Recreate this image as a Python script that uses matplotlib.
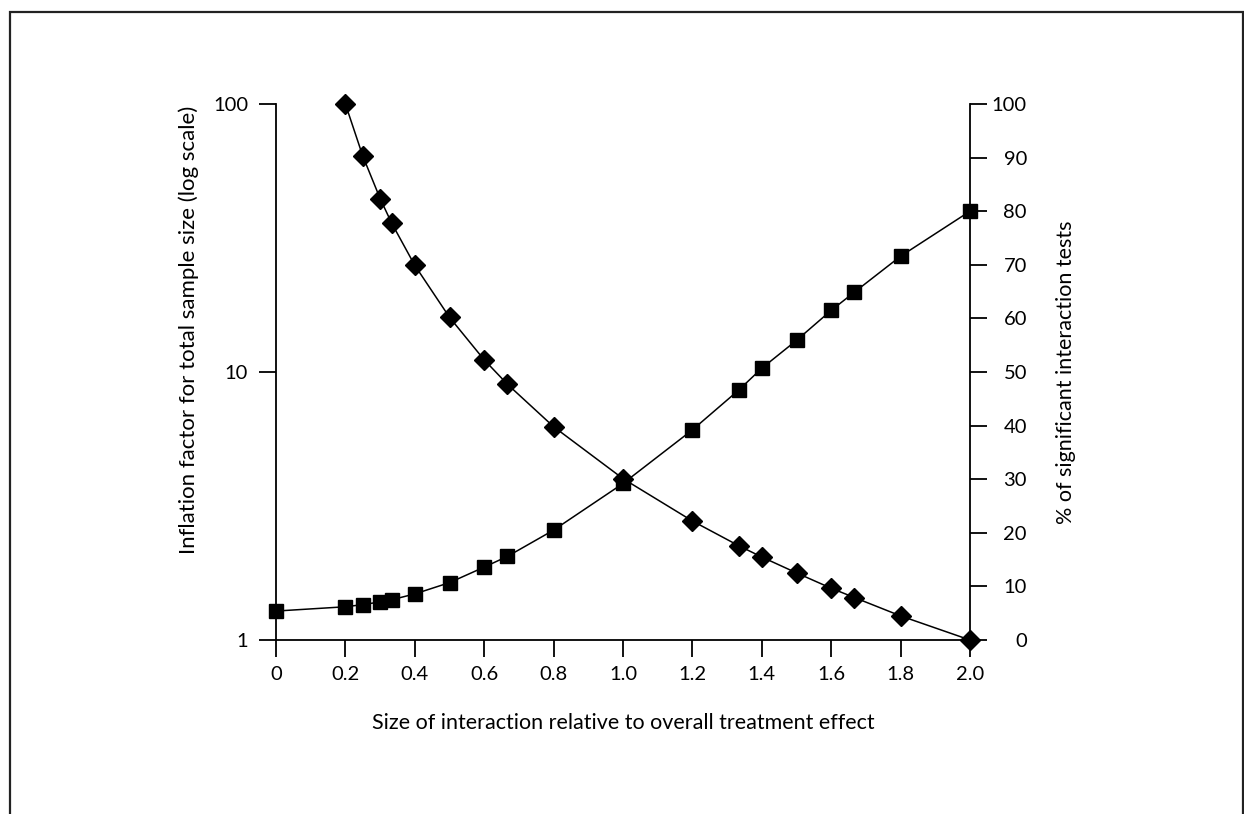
import numpy as np
import matplotlib.pyplot as plt
from matplotlib.patches import Rectangle

plt.rcParams['font.family'] = ['Lato', 'DejaVu Sans']

# interaction size relative to overall treatment effect
x_inflation = [0.2, 0.25, 0.3, 0.333, 0.4, 0.5, 0.6, 0.667, 0.8, 1.0,
               1.2, 1.333, 1.4, 1.5, 1.6, 1.667, 1.8, 2.0]
inflation = [100, 64, 44.4, 36, 25, 16, 11.1, 9, 6.25, 4,
             2.78, 2.25, 2.04, 1.78, 1.56, 1.44, 1.23, 1.0]

x_signif = [0, 0.2, 0.25, 0.3, 0.333, 0.4, 0.5, 0.6, 0.667, 0.8, 1.0,
            1.2, 1.333, 1.4, 1.5, 1.6, 1.667, 1.8, 2.0]
pct_signif = [5.4, 6.2, 6.6, 7.1, 7.5, 8.6, 10.7, 13.6, 15.6, 20.5, 29.2,
              39.2, 46.6, 50.7, 55.9, 61.5, 64.9, 71.6, 80.0]

x_ticks = [0, 0.2, 0.4, 0.6, 0.8, 1.0, 1.2, 1.4, 1.6, 1.8, 2.0]
x_tick_labels = ['0', '0.2', '0.4', '0.6', '0.8', '1.0', '1.2', '1.4', '1.6', '1.8', '2.0']

fig = plt.figure(figsize=(12.44, 8.14), dpi=100)
ax = fig.add_axes([276/1244, 1 - 640/814, (970-276)/1244, (640-104)/814])

ax.plot(x_inflation, inflation, color='black', lw=1.1, marker='D', ms=10, zorder=3, clip_on=False)
ax.set_yscale('log')
ax.set_ylim(1, 100)
ax.set_xlim(0, 2.0)
ax.set_yticks([1, 10, 100])
ax.set_yticklabels(['1', '10', '100'])
ax.yaxis.set_minor_locator(plt.NullLocator())
ax.set_xticks(x_ticks)
ax.set_xticklabels(x_tick_labels)
ax.set_xlabel("Size of interaction relative to overall treatment effect", fontsize=15.5, labelpad=21)
ax.set_ylabel("Inflation factor for total sample size (log scale)", fontsize=16)
# label sits a little above the axis centre in the original
ax.yaxis.set_label_coords(-0.111, 0.578)

ax2 = ax.twinx()
ax2.plot(x_signif, pct_signif, color='black', lw=1.1, marker='s', ms=10, zorder=3, clip_on=False)
ax2.set_ylim(0, 100)
ax2.set_yticks(np.arange(0, 101, 10))
ax2.set_ylabel("% of significant interaction tests", fontsize=15.5, labelpad=21)

for a in (ax, ax2):
    a.spines['top'].set_visible(False)
    a.tick_params(direction='out', length=12, width=1.3, labelsize=14.5)
    for s in a.spines.values():
        s.set_linewidth(1.3)
ax.tick_params(axis='x', pad=7)
ax.tick_params(axis='y', pad=8)
ax2.tick_params(axis='y', pad=29)
for lbl in ax2.get_yticklabels():
    lbl.set_horizontalalignment('right')
ax.spines['right'].set_visible(False)
ax2.spines['left'].set_visible(False)
ax2.spines['bottom'].set_visible(False)

# outer frame
fig.patches.append(Rectangle((10/1244, -0.05), (1243-10)/1244, 1.05 - 12/814,
                             transform=fig.transFigure, fill=False, lw=1.6, color='#222222'))

plt.savefig("out.png", dpi=100)
